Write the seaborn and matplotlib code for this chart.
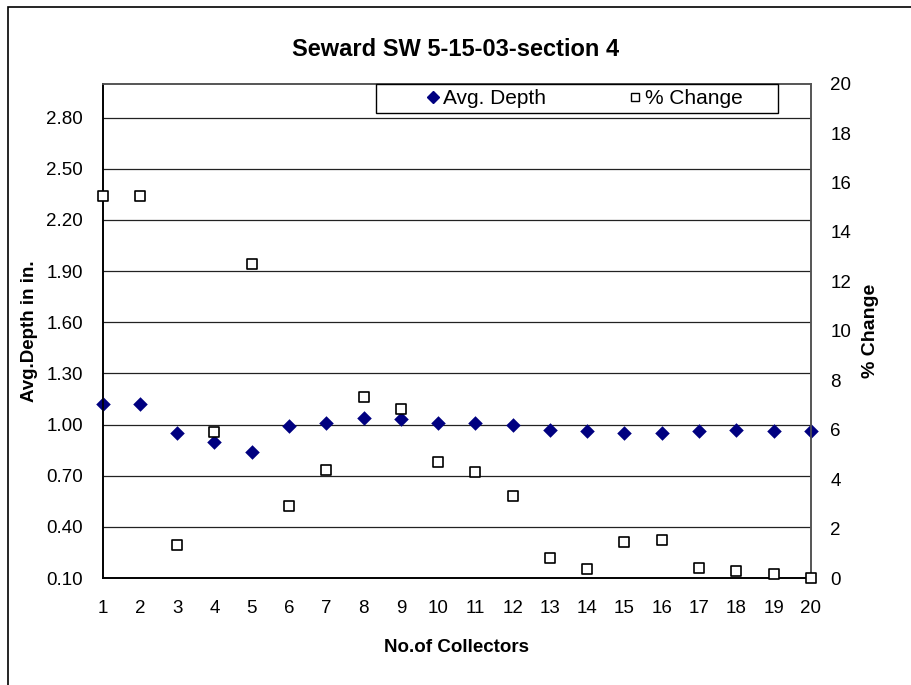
import matplotlib
matplotlib.use("Agg")
import matplotlib.pyplot as plt
import seaborn as sns
import pandas as pd
import numpy as np
from matplotlib.patches import Rectangle

collectors = list(range(1, 21))
avg_depth = [1.12, 1.12, 0.95, 0.90, 0.84, 0.99, 1.01, 1.04, 1.03, 1.01,
             1.01, 1.00, 0.97, 0.96, 0.95, 0.95, 0.96, 0.97, 0.96, 0.96]
pct_change = [15.44, 15.44, 1.34, 5.92, 12.70, 2.91, 4.36, 7.32, 6.85, 4.68,
              4.29, 3.31, 0.81, 0.35, 1.47, 1.54, 0.42, 0.28, 0.16, 0.0]
depth_ticks = [0.10, 0.40, 0.70, 1.00, 1.30, 1.60, 1.90, 2.20, 2.50, 2.80]
pct_ticks = list(range(0, 21, 2))

df = pd.DataFrame({"collector": collectors, "depth": avg_depth, "pct": pct_change})

sns.set_style("white")
plt.rcParams['font.family'] = ['Liberation Sans', 'DejaVu Sans']
plt.rcParams.update({"text.color": "black", "axes.labelcolor": "black",
                     "xtick.color": "black", "ytick.color": "black"})

fig = plt.figure(figsize=(9.12, 6.85), dpi=100)
ax = fig.add_axes([0.1126, 0.1562, 0.7764, 0.7218])
ax2 = ax.twinx()

# outer chart border
fig.patches.append(Rectangle((8 / 912, -0.1), 1.2, 1.1 - 7 / 685, transform=fig.transFigure,
                             fill=False, edgecolor="black", linewidth=1.2))

ax.set_ylim(0.1, 3.0)
ax.set_yticks(depth_ticks)
ax.set_yticklabels([f"{t:.2f}" for t in depth_ticks])
for t in depth_ticks[1:]:
    ax.axhline(t, color="#222222", linewidth=0.9, zorder=0)

sns.scatterplot(data=df, x="collector", y="depth", ax=ax, marker="D", s=55,
                color="#000080", edgecolor="#000080", linewidth=0, zorder=3,
                label="Avg. Depth", legend=False, clip_on=False)
sns.scatterplot(data=df, x="collector", y="pct", ax=ax2, marker="s", s=48,
                facecolor="white", edgecolor="black", linewidth=1.2, zorder=3,
                label="% Change", legend=False, clip_on=False)

ax.set_xlim(1, 20)
ax.set_xticks(collectors)
ax2.set_ylim(0, 20)
ax2.set_yticks(pct_ticks)

ax.tick_params(axis="x", direction="in", length=6, width=1, labelsize=13.5, pad=16)
ax.tick_params(axis="y", length=0, labelsize=13.5, pad=14)
ax2.tick_params(axis="y", length=0, labelsize=13.5, pad=14)

for a in (ax, ax2):
    for side in ("left", "bottom"):
        a.spines[side].set_color("black")
        a.spines[side].set_linewidth(1.2)
    for side in ("right", "top"):
        a.spines[side].set_color("#555555")
        a.spines[side].set_linewidth(1.2)

ax.set_xlabel("No.of Collectors", fontsize=13.5, fontweight="bold", labelpad=16)
ax.set_ylabel("Avg.Depth in in.", fontsize=13.5, fontweight="bold", labelpad=6)
ax2.set_ylabel("% Change", fontsize=14, fontweight="bold", labelpad=8)
fig.suptitle("Seward SW 5-15-03-section 4", x=0.5, y=0.945, fontsize=17, fontweight="bold")

# legend box
ax2.add_patch(Rectangle((0.386, 0.940), 0.568, 0.060, transform=ax2.transAxes,
                        facecolor="white", edgecolor="black", linewidth=1.0,
                        zorder=4, clip_on=False))
h1 = plt.Line2D([], [], marker="D", color="#000080", linestyle="", markersize=6)
h2 = plt.Line2D([], [], marker="s", markerfacecolor="white", markeredgecolor="black",
                linestyle="", markersize=6)
leg = ax2.legend([h1, h2], ["Avg. Depth", "% Change"], ncol=2, loc="center",
                 bbox_to_anchor=(0.681, 0.970), frameon=False,
                 fontsize=15, handletextpad=0.15, columnspacing=4.0,
                 borderpad=0.0, handlelength=0.6, borderaxespad=0)
leg.set_zorder(5)

plt.savefig("out.png", dpi=100)
